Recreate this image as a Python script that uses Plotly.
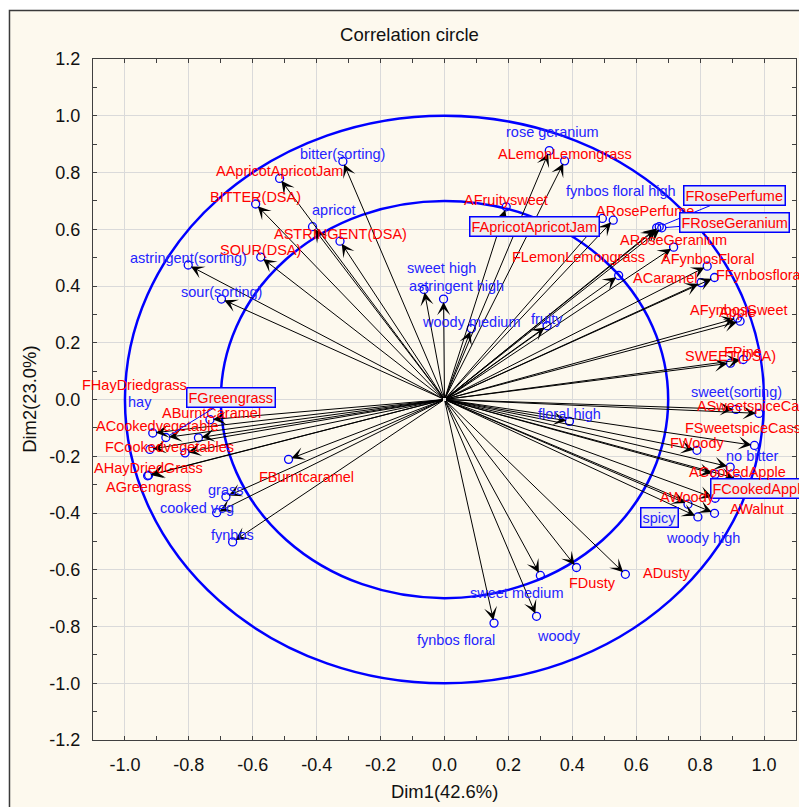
import plotly.graph_objects as go

# ---- data: loadings of each variable on the first two dimensions ----
variables = [
    "bitter(sorting)", "AApricotApricotJam", "BITTER(DSA)", "apricot", "ASTRINGENT(DSA)",
    "SOUR(DSA)", "astringent(sorting)", "sour(sorting)", "sweet high", "astringent high",
    "woody medium", "fruity", "rose geranium", "ALemonLemongrass", "AFruitysweet",
    "FApricotApricotJam", "fynbos floral high", "ARosePerfume", "FRosePerfume", "FRoseGeranium",
    "ARoseGeranium", "FLemonLemongrass", "AFynbosFloral", "ACaramel", "FFynbosfloral",
    "AFynbosSweet", "Apple", "SWEET(DSA)", "FPine", "sweet(sorting)",
    "ASweetspiceCassia", "FSweetspiceCassia", "FWoody", "no bitter", "FCookedApple",
    "ACookedApple", "AWalnut", "woody high", "spicy", "AWoody",
    "floral high", "sweet medium", "FDusty", "ADusty", "fynbos floral",
    "woody", "ABurntCaramel", "ACookedvegetable", "FGreengrass", "FHayDriedgrass",
    "hay", "FCookedvegetables", "AHayDriedGrass", "AGreengrass", "FBurntcaramel",
    "grass", "cooked veg", "fynbos",
]
dim1 = [
    -0.318, -0.516, -0.591, -0.413, -0.327,
    -0.575, -0.802, -0.698, -0.064, -0.003,
    0.084, 0.321, 0.328, 0.376, 0.193,
    0.494, 0.528, 0.664, 0.672, 0.680,
    0.717, 0.545, 0.822, 0.803, 0.845,
    0.917, 0.925, 0.895, 0.935, 0.912,
    0.984, 0.970, 0.790, 0.894, 0.847,
    0.916, 0.847, 0.845, 0.793, 0.762,
    0.391, 0.300, 0.413, 0.566, 0.155,
    0.288, -0.734, -0.913, -0.872, -0.770,
    -0.922, -0.812, -0.926, -0.929, -0.488,
    -0.684, -0.713, -0.663,
]
dim2 = [
    0.839, 0.779, 0.689, 0.609, 0.558,
    0.502, 0.474, 0.354, 0.388, 0.354,
    0.250, 0.260, 0.877, 0.841, 0.679,
    0.638, 0.632, 0.605, 0.609, 0.605,
    0.537, 0.437, 0.470, 0.412, 0.430,
    0.287, 0.276, 0.128, 0.141, -0.035,
    -0.049, -0.162, -0.179, -0.238, -0.263,
    -0.279, -0.348, -0.401, -0.414, -0.369,
    -0.077, -0.620, -0.592, -0.616, -0.788,
    -0.764, -0.071, -0.118, -0.134, -0.135,
    -0.176, -0.188, -0.267, -0.269, -0.211,
    -0.343, -0.399, -0.502,
]
# "DSA" = descriptive sensory analysis attribute, "sorting" = sorting-task term
source = [
    "sorting", "DSA", "DSA", "sorting", "DSA",
    "DSA", "sorting", "sorting", "sorting", "sorting",
    "sorting", "sorting", "sorting", "DSA", "DSA",
    "DSA", "sorting", "DSA", "DSA", "DSA",
    "DSA", "DSA", "DSA", "DSA", "DSA",
    "DSA", "DSA", "DSA", "DSA", "sorting",
    "DSA", "DSA", "DSA", "sorting", "DSA",
    "DSA", "DSA", "sorting", "sorting", "DSA",
    "sorting", "sorting", "DSA", "DSA", "sorting",
    "sorting", "DSA", "DSA", "DSA", "DSA",
    "sorting", "DSA", "DSA", "DSA", "DSA",
    "sorting", "sorting", "sorting",
]
circle_radii = [1.0, 0.7]
tick_vals_x = [-1.0, -0.8, -0.6, -0.4, -0.2, 0.0, 0.2, 0.4, 0.6, 0.8, 1.0]
tick_vals_y = [-1.2, -1.0, -0.8, -0.6, -0.4, -0.2, 0.0, 0.2, 0.4, 0.6, 0.8, 1.0, 1.2]
tick_text_x = [f"{v:.1f}" for v in tick_vals_x]
tick_text_y = [f"{v:.1f}" for v in tick_vals_y]

# ---- styling ----
RED = "#ff0000"
BLUE = "#0000ff"
BLUE_TEXT = "#2424ff"
FONT = "Arial, Liberation Sans, sans-serif"
LABEL_SIZE = 14.5
text_color = {"DSA": RED, "sorting": BLUE_TEXT}

# label placement relative to its point, in screen pixels (dx right, dy down)
DEFAULT_OFFSET = (0, -7)
label_offset = {
    "apricot": (21, -17), "sweet high": (17, -21), "astringent high": (12.5, -13),
    "rose geranium": (3, -19), "FApricotApricotJam": (-68, 8.5),
    "fynbos floral high": (8, -29), "ARosePerfume": (-11.5, -16.7),
    "FRosePerfume": (75, -31), "FRoseGeranium": (72.5, -5.7),
    "FLemonLemongrass": (-40, -19), "ACaramel": (-36, -5), "FFynbosfloral": (45, -2),
    "ASweetspiceCassia": (3, -7), "FSweetspiceCassia": (-5, -17),
    "sweet(sorting)": (1, -17.6), "no bitter": (22, -11), "FCookedApple": (45, 14),
    "AWalnut": (41.5, 11), "woody high": (-12, 25), "spicy": (-38, 1),
    "sweet medium": (-24, 18), "FDusty": (15.7, 15.4), "ADusty": (41, -1.7),
    "fynbos floral": (-38, 16.6), "woody": (22, 19.7), "ACookedvegetable": (5, -7),
    "FGreengrass": (65, -40), "FHayDriedgrass": (-64, -53), "hay": (-10, -47.6),
    "FCookedvegetables": (-16, -5.4), "AGreengrass": (1, 11), "FBurntcaramel": (17.5, 18),
    "cooked veg": (-20, -5), "ABurntCaramel": (2, -7), "Apple": (-3, -9),
    "AFynbosSweet": (1.5, -8),
}
boxed = {"FApricotApricotJam", "FRosePerfume", "FRoseGeranium", "FCookedApple",
         "spicy", "FGreengrass"}
leader = {"FRosePerfume", "FRoseGeranium", "FGreengrass"}

fig = go.Figure()

# variable points
fig.add_trace(go.Scatter(
    x=dim1, y=dim2, mode="markers",
    marker=dict(symbol="circle-open", size=8, color=BLUE, line=dict(width=1.3, color=BLUE)),
    hovertext=variables, hoverinfo="text", showlegend=False,
))

# correlation circles
shapes = []
for r in circle_radii:
    shapes.append(dict(type="circle", xref="x", yref="y", x0=-r, y0=-r, x1=r, y1=r,
                       line=dict(color=BLUE, width=2.5), layer="between"))

# outer cream panel with frame
shapes.append(dict(type="rect", xref="paper", yref="paper",
                   x0=-0.1188, x1=1.01, y0=-0.11, y1=1.0712,
                   fillcolor="#fdf9ee", line=dict(color="#3a3a3a", width=1.5), layer="below"))

annotations = []
# arrows from the origin to each variable
for name, x, y in zip(variables, dim1, dim2):
    annotations.append(dict(
        x=x, y=y, ax=0, ay=0, xref="x", yref="y", axref="x", ayref="y",
        text="", showarrow=True, arrowhead=3, arrowsize=2.2, arrowwidth=1,
        arrowcolor="black", standoff=3,
    ))

# variable labels
for name, x, y, src in zip(variables, dim1, dim2, source):
    dx, dy = label_offset.get(name, DEFAULT_OFFSET)
    ann = dict(x=x, y=y, xref="x", yref="y", text=name,
               font=dict(family=FONT, size=LABEL_SIZE, color=text_color[src]))
    if name in boxed:
        ann.update(bordercolor=BLUE, borderwidth=1.5, borderpad=1, bgcolor="#eeeeee")
    if name in leader:
        ann.update(showarrow=True, ax=dx, ay=dy, arrowhead=0, arrowwidth=1,
                   arrowcolor=BLUE, standoff=4)
    else:
        ann.update(showarrow=False, xshift=dx, yshift=-dy)
    annotations.append(ann)

# axis titles
annotations.append(dict(text="Dim1(42.6%)", xref="paper", yref="paper", x=0.5, y=-0.0759,
                         showarrow=False, xanchor="center", yanchor="middle",
                         font=dict(family=FONT, size=18.4, color="#111111")))
annotations.append(dict(text="Dim2(23.0%)", xref="paper", yref="paper", x=-0.0906, y=0.5,
                         showarrow=False, textangle=-90, xanchor="center", yanchor="middle",
                         font=dict(family=FONT, size=18.4, color="#111111")))

axis_common = dict(
    showline=True, linecolor="#404040", linewidth=1, mirror="allticks",
    ticks="inside", ticklen=4, tickcolor="#404040",
    showgrid=True, gridcolor="#dadada", gridwidth=1, zeroline=False,
    tickfont=dict(family=FONT, size=18, color="#111111"),
    ticklabelstandoff=8,
    minor=dict(ticks="inside", ticklen=4, tickcolor="#404040", dtick=0.1, showgrid=False),
)

fig.update_layout(
    width=799, height=807,
    margin=dict(l=93, r=3, t=59, b=67),
    paper_bgcolor="white", plot_bgcolor="white",
    title=dict(text="Correlation circle", x=0.5125, xanchor="center", y=0.9575, yanchor="middle",
               font=dict(family=FONT, size=18.5, color="#111111")),
    xaxis=dict(range=[-1.1, 1.1], tickvals=tick_vals_x, ticktext=tick_text_x, **axis_common),
    yaxis=dict(range=[-1.2, 1.2], tickvals=tick_vals_y, ticktext=tick_text_y, **axis_common),
    shapes=shapes, annotations=annotations, showlegend=False,
)
fig.update_xaxes(minor=dict(tick0=-1.1))
fig.update_yaxes(minor=dict(tick0=-1.2))

fig.write_html("out.html")
